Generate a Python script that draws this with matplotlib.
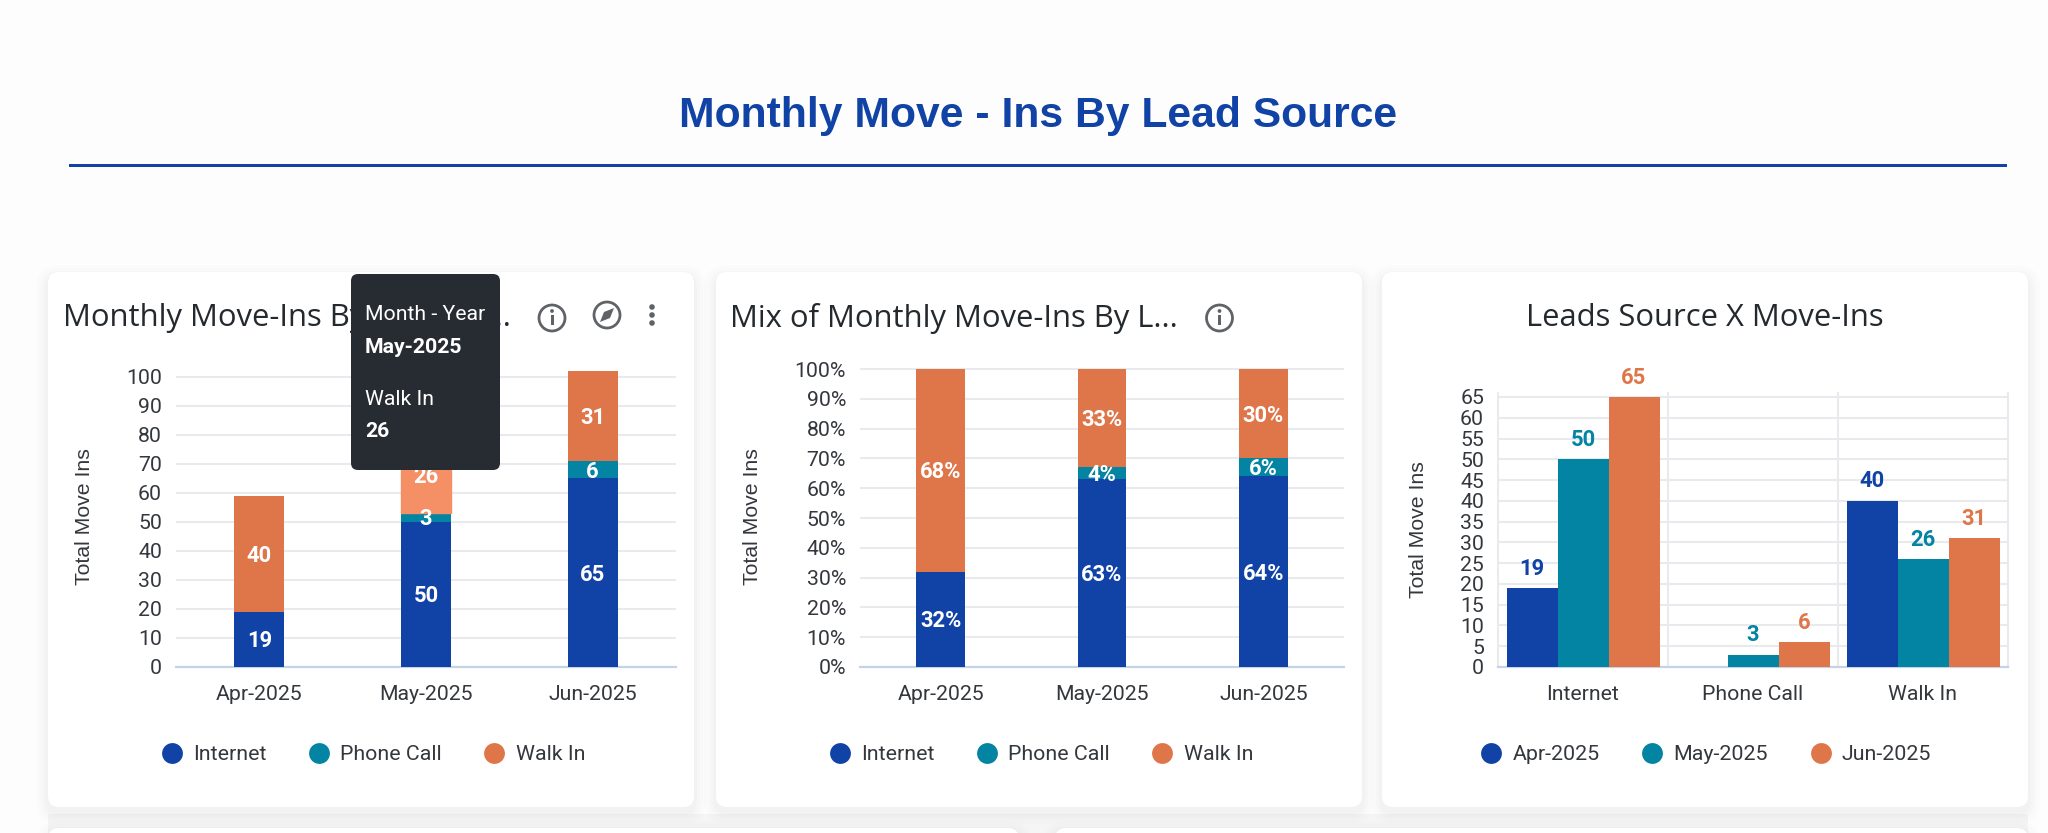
import matplotlib
matplotlib.use("Agg")
import matplotlib.pyplot as plt
from matplotlib.lines import Line2D
from matplotlib.patches import Circle, FancyBboxPatch, Polygon, Rectangle

W, H = 2048, 833
BLUE = "#1043A5"
TEAL = "#0384A3"
ORANGE = "#DF764A"
HOVER = "#F58F66"
GRID = "#E8EAED"
BASE = "#C6D2EA"
TEXT = "#34383D"
ICON = "#5F6368"

MONTHS = ["Apr-2025", "May-2025", "Jun-2025"]
SOURCES = ["Internet", "Phone Call", "Walk In"]

# counts per month, one list per lead source
INTERNET = [19, 50, 65]
PHONE = [0, 3, 6]
WALK_IN = [40, 26, 31]

# shares per month, as printed on the bars
INTERNET_PCT = [32, 63, 64]
PHONE_PCT = [0, 4, 6]
WALK_IN_PCT = [68, 33, 30]

# same counts, grouped by source
APR = [19, 0, 40]
MAY = [50, 3, 26]
JUN = [65, 6, 31]

TICKS_COUNT = list(range(0, 101, 10))
TICKS_PCT = list(range(0, 101, 10))
TICKS_GROUP = list(range(0, 66, 5))

plt.rcParams["font.family"] = ["Roboto", "DejaVu Sans"]

fig = plt.figure(figsize=(W / 100, H / 100), dpi=100, facecolor="#FDFDFD")


def px_axes(left, right, top, bottom, zorder=1):
    ax = fig.add_axes([left / W, 1 - bottom / H, (right - left) / W, (bottom - top) / H],
                      zorder=zorder)
    ax.patch.set_alpha(0)
    return ax


def overlay(zorder):
    ax = px_axes(0, W, 0, H, zorder=zorder)
    ax.set_xlim(0, W)
    ax.set_ylim(H, 0)
    ax.axis("off")
    return ax


def card(ax, x0, x1, y0, y1, color="white", radius=11):
    # soft shadow first, stacked, then the white card
    for grow, alpha in [(12, 0.006), (9, 0.008), (6, 0.012), (3, 0.016)]:
        ax.add_patch(FancyBboxPatch((x0 - grow, y0 - grow + 5), x1 - x0 + 2 * grow,
                                    y1 - y0 + 2 * grow,
                                    boxstyle=f"round,pad=0,rounding_size={radius + grow}",
                                    fc="black", ec="none", alpha=alpha))
    ax.add_patch(FancyBboxPatch((x0, y0), x1 - x0, y1 - y0,
                                boxstyle=f"round,pad=0,rounding_size={radius}",
                                fc=color, ec="none"))


def style_axes(ax, ticks):
    for s in ax.spines.values():
        s.set_visible(False)
    ax.spines["bottom"].set_visible(True)
    ax.spines["bottom"].set_color(BASE)
    ax.spines["bottom"].set_linewidth(1.6)
    ax.set_yticks(ticks)
    ax.tick_params(axis="both", length=0, labelsize=15.3, labelcolor=TEXT)
    ax.tick_params(axis="y", pad=10)
    ax.tick_params(axis="x", pad=13)
    ax.grid(axis="y", color=GRID, lw=1.5)
    ax.set_axisbelow(True)


def legend(ax, labels, cx):
    handles = [Line2D([], [], ls="", marker="o", ms=15, color=c, mew=0)
               for c in (BLUE, TEAL, ORANGE)]
    ax.legend(handles, labels, loc="center", ncol=3, frameon=False, fontsize=15.4,
              bbox_to_anchor=(cx / W, 1 - 755 / H), bbox_transform=fig.transFigure,
              handlelength=1.0, handletextpad=0.5, columnspacing=1.95,
              labelcolor=TEXT, borderpad=0)


def stacked(ax, series, colors, fmt="{}"):
    xs = range(len(MONTHS))
    bottom = [0] * len(MONTHS)
    for vals, col in zip(series, colors):
        bars = ax.bar(xs, vals, width=0.3, bottom=bottom, color=col, zorder=3)
        for x, v, b in zip(xs, vals, bottom):
            if v:
                ax.annotate(fmt.format(v), (x, b + v / 2), xytext=(0, -1.5),
                            textcoords="offset points", ha="center", va="center",
                            color="white", fontsize=15.8, fontweight="bold", zorder=5)
        bottom = [b + v for b, v in zip(bottom, vals)]
    return bars


def info_icon(ax, x, y):
    ax.add_patch(Circle((x, y), 13, fc="none", ec=ICON, lw=2))
    ax.add_patch(Rectangle((x - 1.5, y - 3), 3, 10, fc=ICON, ec="none"))
    ax.add_patch(Circle((x, y - 7), 1.9, fc=ICON, ec="none"))


bg = overlay(0)
bg.add_patch(Rectangle((48, 814), 1980, 19, fc="#F5F5F5", ec="none"))
card(bg, 48, 694, 272, 807)
card(bg, 716, 1362, 272, 807)
card(bg, 1382, 2028, 272, 807)
card(bg, 48, 1019, 828, 860)
card(bg, 1055, 2028, 828, 860)

bg.text(1038, 116, "Monthly Move - Ins By Lead Source", ha="center", va="center",
        color=BLUE, fontsize=30.7, fontweight="bold", family="Liberation Sans")
bg.add_patch(Rectangle((69, 163.5), 1938, 3.2, fc=BLUE, ec="none"))

title_font = dict(color="#24292E", fontsize=22.3, family="Open Sans", va="center")
bg.text(63, 318, "Monthly Move-Ins By Lead So...", ha="left", **title_font)
bg.text(730, 318, "Mix of Monthly Move-Ins By L...", ha="left", **title_font)
bg.text(1705, 318, "Leads Source X Move-Ins", ha="center", **title_font)

label_font = dict(color=TEXT, fontsize=15.3, family="Liberation Sans", rotation=90,
                  ha="center", va="center")
bg.text(84, 517, "Total Move Ins", **label_font)
bg.text(752, 517, "Total Move Ins", **label_font)
bg.text(1418, 530, "Total Move Ins", **label_font)

info_icon(bg, 552, 318)
info_icon(bg, 1219.5, 318)
bg.add_patch(Circle((607, 315), 13, fc="none", ec=ICON, lw=2))
bg.add_patch(Polygon([(614, 308), (610, 318), (600, 322), (604, 312)], fc=ICON, ec="none"))
for yy in (307, 315, 323):
    bg.add_patch(Circle((652, yy), 2.8, fc=ICON, ec="none"))

# left chart: counts
ax1 = px_axes(176, 676, 667 - 105 * 2.905, 667)
bars = stacked(ax1, [INTERNET, PHONE, WALK_IN], [BLUE, TEAL, ORANGE])
bars[1].set_color(HOVER)
ax1.set_xlim(-0.5, 2.5)
ax1.set_ylim(0, 105)
ax1.set_xticks(range(3), MONTHS)
style_axes(ax1, TICKS_COUNT)
legend(ax1, SOURCES, 373)

# middle chart: shares
ax2 = px_axes(860, 1344, 667 - 101 * 2.98, 667)
stacked(ax2, [INTERNET_PCT, PHONE_PCT, WALK_IN_PCT], [BLUE, TEAL, ORANGE], fmt="{}%")
ax2.set_xlim(-0.5, 2.5)
ax2.set_ylim(0, 101)
ax2.set_xticks(range(3), MONTHS)
style_axes(ax2, TICKS_PCT)
ax2.set_yticklabels([f"{t}%" for t in TICKS_PCT])
legend(ax2, SOURCES, 1041)

# right chart: grouped by source
ax3 = px_axes(1498, 2008, 667 - 66 * 4.154, 667)
for off, vals, col in zip((-0.3, 0, 0.3), (APR, MAY, JUN), (BLUE, TEAL, ORANGE)):
    xs = [i + off for i in range(3)]
    ax3.bar(xs, vals, width=0.3, color=col, zorder=3)
    for x, v in zip(xs, vals):
        if v:
            ax3.annotate(str(v), (x, v), xytext=(0, 14), textcoords="offset points",
                         ha="center", va="center", color=col, fontsize=15.8,
                         fontweight="bold")
ax3.set_xlim(-0.5, 2.5)
ax3.set_ylim(0, 66)
ax3.set_xticks(range(3), SOURCES)
style_axes(ax3, TICKS_GROUP)
ax3.set_xticks([-0.5, 0.5, 1.5, 2.5], minor=True)
ax3.tick_params(axis="x", which="minor", length=0)
ax3.grid(axis="x", which="minor", color=GRID, lw=1.5, clip_on=False)
legend(ax3, MONTHS, 1706)

# hover tooltip sits above everything
top = overlay(10)
top.add_patch(FancyBboxPatch((351, 274), 149, 196, boxstyle="round,pad=0,rounding_size=7",
                             fc="#272C33", ec="none"))
for yy, txt, weight in [(315, "Month - Year", "normal"), (347, "May-2025", "bold"),
                        (399, "Walk In", "normal"), (431, "26", "bold")]:
    top.text(365, yy, txt, color="white", fontsize=15.3, fontweight=weight, va="center")

fig.savefig("out.png", dpi=100, facecolor=fig.get_facecolor())
